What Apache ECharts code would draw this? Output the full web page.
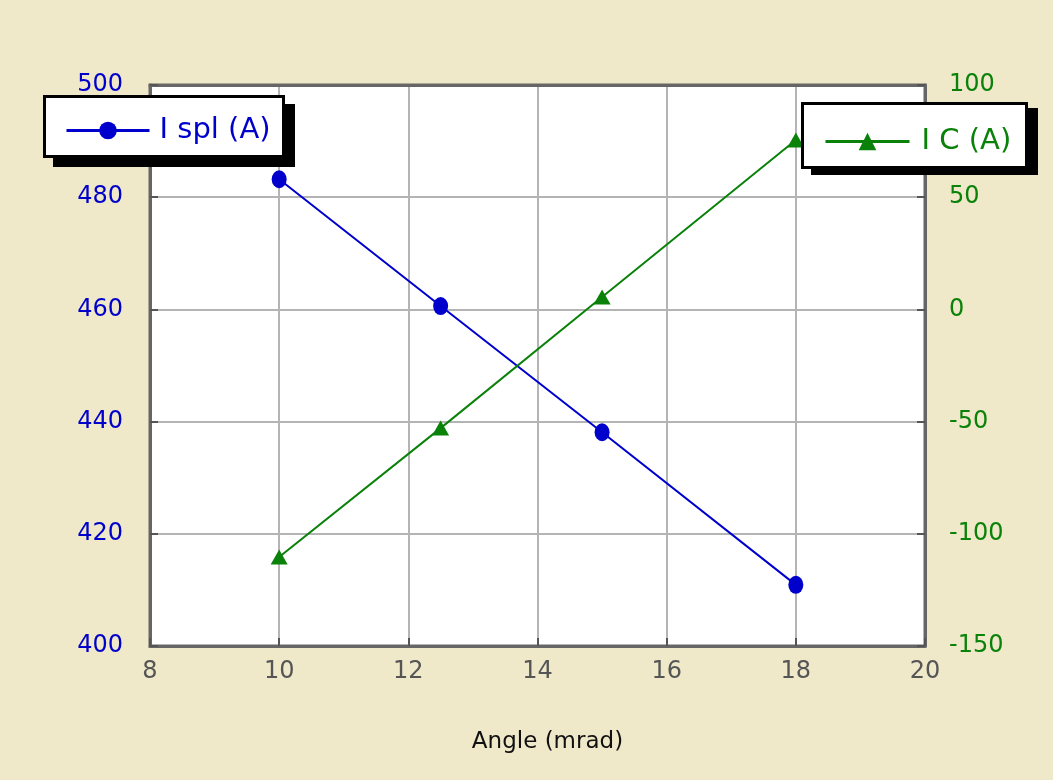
<!DOCTYPE html>
<html><head><meta charset="utf-8">
<script src="https://cdn.jsdelivr.net/npm/echarts@6/dist/echarts.min.js"></script>
<style>html,body{margin:0;padding:0;background:#EFE8C9;}#c{width:1053px;height:780px;}</style>
</head><body><div id="c"></div>
<script>
const angle = [10, 12.5, 15, 18];
const iSpl = [483.2, 460.6, 438.1, 410.9];
const iC = [-110.3, -52.9, 5.5, 75.5];
const xTicks = {min: 8, max: 20, interval: 2};
const leftTicks = {min: 400, max: 500, interval: 20};
const rightTicks = {min: -150, max: 100, interval: 50};

const FONT = 'DejaVu Sans';
const BLUE = '#0000CC', GREEN = '#0A820A';
const chart = echarts.init(document.getElementById('c'));
const tickStyle = {show: true, inside: true, length: 8, lineStyle: {color: '#555', width: 2}};
function box(x1, y1, x2, y2, dx, dy) {
  return [
    {type: 'rect', z: 20, shape: {x: x1 + dx, y: y1 + dy, width: x2 - x1, height: y2 - y1}, style: {fill: '#000'}},
    {type: 'rect', z: 21, shape: {x: x1 + 1.5, y: y1 + 1.5, width: x2 - x1 - 3, height: y2 - y1 - 3}, style: {fill: '#fff', stroke: '#000', lineWidth: 3}}
  ];
}
chart.setOption({
  backgroundColor: '#EFE8C9',
  animation: false,
  grid: {left: 150, right: 128, top: 85, bottom: 134, show: true, backgroundColor: '#fff', borderColor: '#666', borderWidth: 3},
  graphic: [...box(43, 95, 285, 158, 10, 9), ...box(801, 102, 1028, 169, 10, 6)],
  xAxis: [{type: 'value', min: xTicks.min, max: xTicks.max, interval: xTicks.interval,
    name: 'Angle (mrad)', nameLocation: 'middle', nameGap: 85,
    nameTextStyle: {fontFamily: FONT, fontSize: 23, color: '#111', padding: [0, 0, 0, 20]},
    axisLine: {onZero: false, lineStyle: {color: '#666', width: 3}},
    axisTick: tickStyle,
    axisLabel: {fontFamily: FONT, fontSize: 24, color: '#555', margin: 14},
    splitLine: {lineStyle: {color: '#b4b4b4', width: 2}}},
    {type: 'value', position: 'top', min: xTicks.min, max: xTicks.max, interval: xTicks.interval,
    axisLine: {onZero: false, lineStyle: {color: '#666', width: 3}},
    axisTick: {show: false}, axisLabel: {show: false}, splitLine: {show: false}}],
  yAxis: [
    {type: 'value', position: 'left', min: leftTicks.min, max: leftTicks.max, interval: leftTicks.interval,
     axisLine: {show: true, onZero: false, lineStyle: {color: '#666', width: 3}},
     axisTick: tickStyle,
     axisLabel: {fontFamily: FONT, fontSize: 24, color: BLUE, margin: 27},
     splitLine: {lineStyle: {color: '#b4b4b4', width: 2}}},
    {type: 'value', position: 'right', min: rightTicks.min, max: rightTicks.max, interval: rightTicks.interval,
     axisLine: {show: true, onZero: false, lineStyle: {color: '#666', width: 3}},
     axisTick: tickStyle,
     axisLabel: {fontFamily: FONT, fontSize: 24, color: GREEN, margin: 24},
     splitLine: {show: false}}
  ],
  legend: [
    {data: [{name: 'I spl (A)', textStyle: {color: BLUE}}], left: 65, top: 116, orient: 'vertical',
     itemWidth: 83, itemHeight: 22, padding: 0, z: 30, lineStyle: {width: 3},
     textStyle: {fontFamily: FONT, fontSize: 29, padding: [0, 0, 0, 5]}},
    {data: [{name: 'I C (A)', textStyle: {color: GREEN}}], left: 824, top: 127, orient: 'vertical',
     itemWidth: 84, itemHeight: 22, padding: 0, z: 30, lineStyle: {width: 3},
     textStyle: {fontFamily: FONT, fontSize: 29, padding: [0, 0, 0, 7]}}
  ],
  series: [
    {name: 'I spl (A)', type: 'line', yAxisIndex: 0, data: angle.map((a, i) => [a, iSpl[i]]),
     symbol: 'circle', symbolSize: [15, 18], itemStyle: {color: BLUE}, lineStyle: {color: BLUE, width: 2}, z: 3},
    {name: 'I C (A)', type: 'line', yAxisIndex: 1, data: angle.map((a, i) => [a, iC[i]]),
     symbol: 'triangle', symbolSize: [17, 15], itemStyle: {color: GREEN}, lineStyle: {color: GREEN, width: 2}, z: 3}
  ]
});
</script></body></html>
